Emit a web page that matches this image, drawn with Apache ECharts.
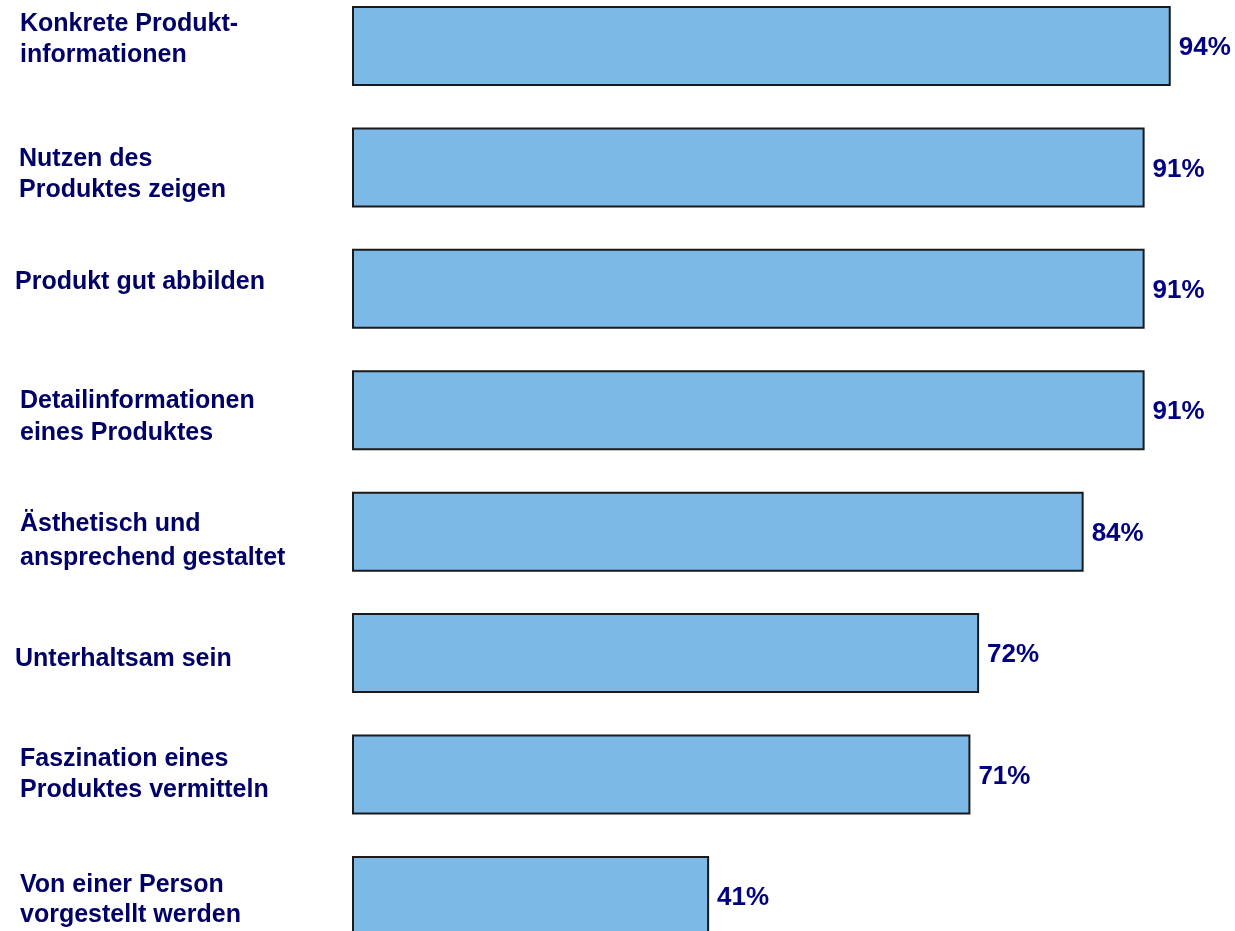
<!DOCTYPE html>
<html>
<head>
<meta charset="utf-8">
<title>Anforderungen an Produktdarstellungen</title>
<script src="https://cdn.jsdelivr.net/npm/echarts@6/dist/echarts.min.js"></script>
<style>
  html, body { margin: 0; padding: 0; background: #ffffff; }
  #chart { width: 1235px; height: 931px; }
</style>
</head>
<body>
<div id="chart"></div>
<script>
// Kategorien (von oben nach unten) und Anteile in Prozent
const categories = [
  'Konkrete Produkt-\ninformationen',
  'Nutzen des\nProduktes zeigen',
  'Produkt gut abbilden',
  'Detailinformationen\neines Produktes',
  'Ästhetisch und\nansprechend gestaltet',
  'Unterhaltsam sein',
  'Faszination eines\nProduktes vermitteln',
  'Von einer Person\nvorgestellt werden'
];
const values = [94, 91, 91, 91, 84, 72, 71, 41];

// Lage der linken Beschriftungen relativ zur Balkenmitte:
// [Abstand Textoberkante, 0, 0, Einrückung links]
const labelPads = [
  [-37, 0, 0, 5],
  [-23.5, 0, 0, 4],
  [-22, 0, 0, 0],
  [-25, 0, 0, 5],
  [-24.5, 0, 0, 5],
  [-9, 0, 0, 0],
  [-30.5, 0, 0, 5],
  [-25.5, 0, 0, 5]
];
const labelLineHeights = [31, 31, 31, 32, 34, 31, 31, 30];

const chart = echarts.init(document.getElementById('chart'), null, { renderer: 'canvas' });

chart.setOption({
  animation: false,
  backgroundColor: '#ffffff',
  grid: {
    left: 352, right: 12, top: -14.7, bottom: -25.6,
    containLabel: false,
    outerBoundsMode: 'none'
  },
  xAxis: {
    type: 'value', min: 0, max: 100,
    show: false
  },
  yAxis: {
    type: 'category',
    inverse: true,
    data: categories.map((c, i) => ({
      value: c,
      textStyle: {
        align: 'left',
        verticalAlign: 'top',
        padding: labelPads[i],
        lineHeight: labelLineHeights[i]
      }
    })),
    axisLine: { show: false },
    axisTick: { show: false },
    splitLine: { show: false },
    axisLabel: {
      align: 'left',
      margin: 337,
      color: '#000066',
      fontFamily: 'Liberation Sans, Arial, sans-serif',
      fontWeight: 'bold',
      fontSize: 25,
      lineHeight: 31
    }
  },
  series: [{
    type: 'bar',
    data: values,
    barWidth: 80,
    itemStyle: {
      color: '#7cb9e6',
      borderColor: '#1a1a1a',
      borderWidth: 2
    },
    label: {
      show: true,
      position: 'right',
      distance: 8,
      offset: [0, 2],
      formatter: '{c}%',
      color: '#000080',
      fontFamily: 'Liberation Sans, Arial, sans-serif',
      fontWeight: 'bold',
      fontSize: 26
    }
  }]
});
</script>
</body>
</html>
